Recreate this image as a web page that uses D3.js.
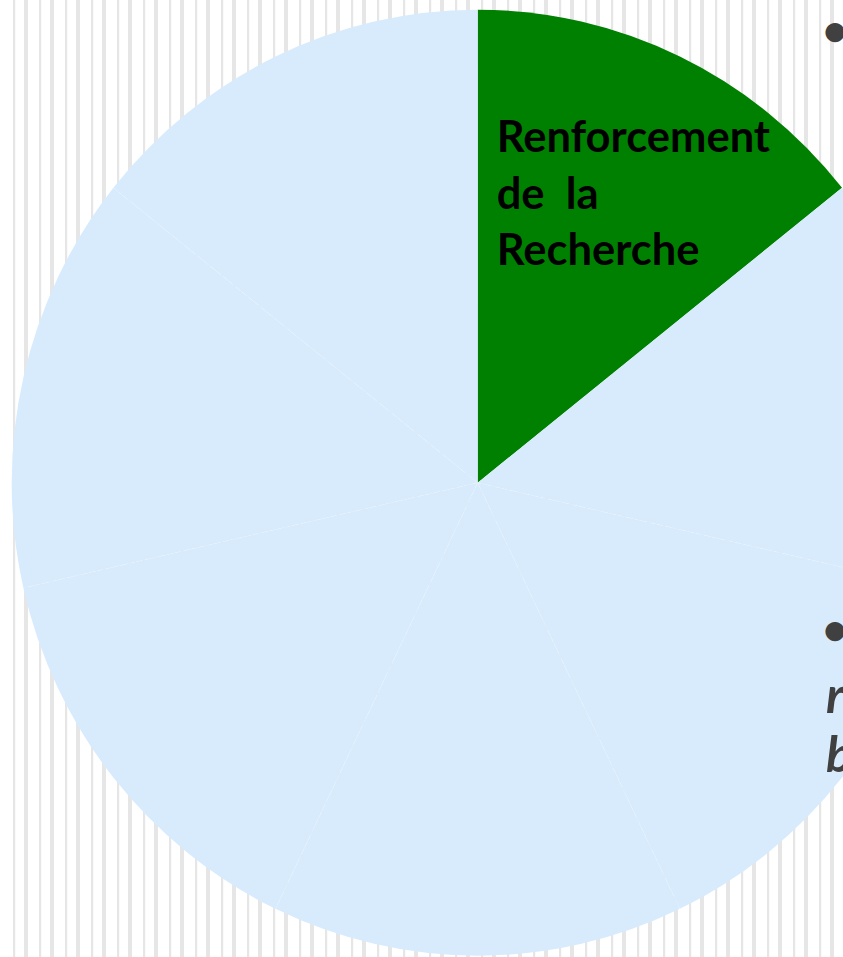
<!DOCTYPE html>
<html>
<head>
<meta charset="utf-8">
<script src="https://cdn.jsdelivr.net/npm/d3@7"></script>
<style>
  body { margin: 0; background: #ffffff; overflow: hidden; }
  svg { display: block; }
</style>
</head>
<body>
<div id="chart"></div>
<script>
// Slices of the pie (seven equal parts, only the first one is highlighted)
const slices = ["Renforcement de la Recherche", "s2", "s3", "s4", "s5", "s6", "s7"];
const values = [1, 1, 1, 1, 1, 1, 1];
const colors = ["#008000", "#d7ebfd", "#d7ebfd", "#d7ebfd", "#d7ebfd", "#d7ebfd", "#d7ebfd"];
const labelLines = ["Renforcement", "de  la", "Recherche"];
// Clipped bullet text at the right edge
const sideText = ["r", "b"];

const width = 843;
const height = 957;
const cx = 477.7, cy = 482.7;
const rx = 466, ry = 473;

const svg = d3.select("#chart")
    .append("svg")
    .attr("width", width)
    .attr("height", height);

// Striped background
const stripes = [];
d3.range(0, width + 26, 26).forEach(x0 => {
    stripes.push({ x: x0 + 13, w: 2.2 });
    stripes.push({ x: x0 + 24, w: 4 });
});
svg.append("g")
    .selectAll("rect")
    .data(stripes)
    .join("rect")
    .attr("x", d => d.x)
    .attr("y", 0)
    .attr("width", d => d.w)
    .attr("height", height)
    .attr("fill", "#e6e6e6");

const pie = d3.pie().sort(null).value(d => d)(values);
const arc = d3.arc().innerRadius(0).outerRadius(rx);

const g = svg.append("g")
    .attr("transform", `translate(${cx},${cy}) scale(1,${ry / rx})`);

g.selectAll("path.slice")
    .data(pie)
    .join("path")
    .attr("class", "slice")
    .attr("d", arc)
    .attr("fill", (d, i) => colors[i]);

// faint boundaries between the light slices
g.selectAll("line.sep")
    .data(pie.slice(2))
    .join("line")
    .attr("class", "sep")
    .attr("x1", 0).attr("y1", 0)
    .attr("x2", d => Math.sin(d.startAngle) * rx)
    .attr("y2", d => -Math.cos(d.startAngle) * rx)
    .attr("stroke", "#ffffff")
    .attr("stroke-opacity", 0.18)
    .attr("stroke-width", 1)
    .attr("stroke-dasharray", "6,2");

// Label of the highlighted slice
svg.append("text")
    .attr("x", cx + 19)
    .attr("y", 152)
    .attr("font-family", "Lato, 'Open Sans', sans-serif")
    .attr("font-weight", "bold")
    .attr("font-size", 43.5)
    .attr("fill", "#000000")
    .attr("xml:space", "preserve")
    .style("white-space", "pre")
    .selectAll("tspan")
    .data(labelLines)
    .join("tspan")
    .attr("x", cx + 19)
    .attr("dy", (d, i) => i === 0 ? 0 : 56.5)
    .text(d => d);

// Bullets and clipped text at the right edge
const side = svg.append("g")
    .attr("font-family", "Lato, 'Open Sans', sans-serif")
    .attr("font-weight", "bold")
    .attr("fill", "#404040");

side.selectAll("text.bullet")
    .data([31, 630])
    .join("text")
    .attr("class", "bullet")
    .attr("x", 835)
    .attr("y", d => d)
    .attr("dy", "0.33em")
    .attr("text-anchor", "middle")
    .attr("font-size", 44)
    .text("\u2022");

side.selectAll("text.side")
    .data(sideText)
    .join("text")
    .attr("class", "side")
    .attr("x", 826)
    .attr("y", (d, i) => 713 + i * 59)
    .attr("font-size", 50)
    .attr("font-style", "italic")
    .text(d => d);
</script>
</body>
</html>
